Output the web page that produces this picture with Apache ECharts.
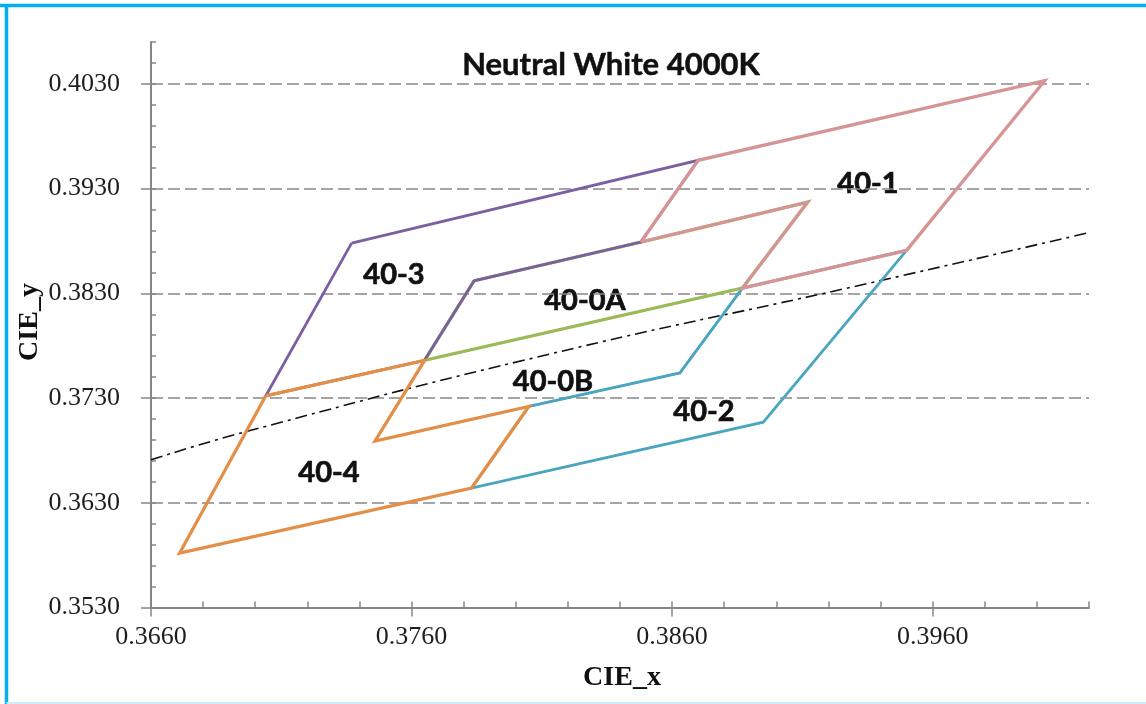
<!DOCTYPE html>
<html><head><meta charset="utf-8">
<script src="https://cdn.jsdelivr.net/npm/echarts@6/dist/echarts.min.js"></script>
<style>html,body{margin:0;padding:0;background:#fff;}#c{width:1146px;height:704px;}</style>
</head><body><div id="c"></div>
<script>
// Tick values
const xTicks = [0.366, 0.376, 0.386, 0.396];
const yTicks = [0.353, 0.363, 0.373, 0.383, 0.393, 0.403];
// Bin polygons (CIE x, y)
const bin40_0B = [[0.3765,0.3766],[0.3887,0.3835],[0.3863,0.3754],[0.3805,0.3722],[0.3746,0.3689],[0.3765,0.3766]];
const bin40_0A = [[0.3784,0.3842],[0.3848,0.3879],[0.3912,0.3917],[0.3887,0.3835],[0.3765,0.3766],[0.3784,0.3842]];
const bin40_3 = [[0.3737,0.3878],[0.3870,0.3957],[0.3848,0.3879],[0.3784,0.3842],[0.3765,0.3766],[0.3704,0.3732],[0.3737,0.3878]];
const bin40_2 = [[0.3805,0.3722],[0.3863,0.3754],[0.3887,0.3835],[0.3950,0.3871],[0.3895,0.3707],[0.3783,0.3644],[0.3805,0.3722]];
const bin40_1 = [[0.3848,0.3879],[0.3870,0.3957],[0.4003,0.4033],[0.3950,0.3871],[0.3887,0.3835],[0.3912,0.3917],[0.3848,0.3879]];
const bin40_4 = [[0.3704,0.3732],[0.3765,0.3766],[0.3746,0.3689],[0.3805,0.3722],[0.3783,0.3644],[0.3671,0.3582],[0.3704,0.3732]];
// Black body locus
const locus = [[0.3660,0.3671],[0.3698,0.3699],[0.3813,0.3772],[0.3929,0.3836],[0.4020,0.3888]];
// Labels
const binNames = ['40-1','40-3','40-0A','40-0B','40-2','40-4'];
const titleText = 'Neutral White 4000K';
const xName = 'CIE_x', yName = 'CIE_y';

const chart = echarts.init(document.getElementById('c'), null, {renderer:'canvas'});
const fmt = v => Number(v).toFixed(4);
const axisCol = '#868686';
const labelFont = {fontFamily:'Liberation Serif', fontSize:26, color:'#1e1e1e'};

function poly(name, data, color, w){
  return {name, type:'line', data, symbol:'none', silent:true,
    lineStyle:{color, width:w, join:'miter'}, animation:false};
}
const labelPos = {'40-1':[868,184],'40-3':[394,275],'40-0A':[585,301],'40-0B':[553,382],'40-2':[704,412],'40-4':[329,473]};

const option = {
  animation:false,
  backgroundColor:'#fff',
  grid:{left:151, right:57, top:42, bottom:96.5, containLabel:false},
  xAxis:[{
    type:'value', min:0.366, max:0.402, interval:0.01, position:'bottom',
    axisLine:{show:true, lineStyle:{color:axisCol, width:2}},
    axisTick:{show:true, inside:false, length:9, customValues:xTicks, lineStyle:{color:axisCol, width:1.5}},
    axisLabel:{show:true, customValues:xTicks, formatter:fmt, margin:17, ...labelFont},
    splitLine:{show:false}
  },{
    type:'value', min:0.366, max:0.402, interval:0.002, position:'bottom',
    axisLine:{show:false},
    axisTick:{show:true, inside:true, length:6, lineStyle:{color:axisCol, width:1.5}},
    axisLabel:{show:false}, splitLine:{show:false}
  }],
  yAxis:[{
    type:'value', min:0.353, max:0.407, interval:0.01, position:'left',
    axisLine:{show:true, lineStyle:{color:axisCol, width:2}},
    axisTick:{show:true, inside:false, length:10, customValues:yTicks, lineStyle:{color:axisCol, width:1.5}},
    axisLabel:{show:true, customValues:yTicks, formatter:fmt, margin:31, ...labelFont},
    splitLine:{show:true, lineStyle:{color:'#888', width:1.7, type:[12,5]}}
  },{
    type:'value', min:0.353, max:0.407, interval:0.002, position:'left',
    axisLine:{show:false},
    axisTick:{show:true, inside:true, length:5, lineStyle:{color:axisCol, width:1.5}},
    axisLabel:{show:false}, splitLine:{show:false}
  }],
  series:[
    {name:'locus', type:'line', data:locus, symbol:'none', smooth:true, silent:true,
     lineStyle:{color:'#111', width:1.6, type:[12,5,3,5]}},
    poly('40-0B', bin40_0B, '#4F81BD', 2),
    poly('40-0A', bin40_0A, '#9BBB59', 3.3),
    poly('40-3', bin40_3, '#7C5FA0', 2.8),
    poly('40-2', bin40_2, '#4AA6BE', 2.8),
    poly('40-1', bin40_1, '#D59594', 3.3),
    poly('40-4', bin40_4, '#E38F47', 3.3)
  ],
  graphic:[
    {type:'line', shape:{x1:0, y1:5.5, x2:1146, y2:5.5}, style:{stroke:'#00B0F0', lineWidth:3.5}, silent:true},
    {type:'line', shape:{x1:6.5, y1:4, x2:6.5, y2:704}, style:{stroke:'#00B0F0', lineWidth:3.5}, silent:true},
    {type:'line', shape:{x1:6.5, y1:703, x2:1146, y2:703}, style:{stroke:'#cdeefa', lineWidth:2}, silent:true},
    {type:'text', x:611, y:65, silent:true, style:{text:titleText, font:'bold 31px Lato', fill:'#111', align:'center', verticalAlign:'middle', stroke:'#111', lineWidth:0.5}},
    {type:'text', x:622, y:678, silent:true, style:{text:xName, font:'bold 28px "Liberation Serif"', fill:'#111', align:'center', verticalAlign:'middle'}},
    {type:'text', x:30, y:322, rotation:Math.PI/2, silent:true, style:{text:yName, font:'bold 28px "Liberation Serif"', fill:'#111', align:'center', verticalAlign:'middle'}},
    ...binNames.map(n => ({type:'text', x:labelPos[n][0], y:labelPos[n][1], silent:true,
      style:{text:n, font:'bold 29px Lato', fill:'#111', align:'center', verticalAlign:'middle', stroke:'#111', lineWidth:0.7}}))
  ]
};
chart.setOption(option);
</script></body></html>
